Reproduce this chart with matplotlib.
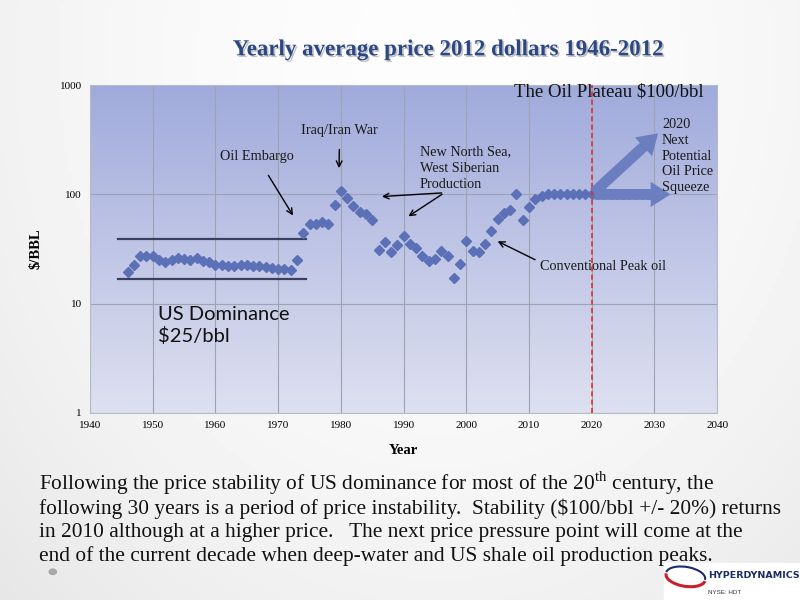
import numpy as np
import matplotlib.pyplot as plt
import matplotlib.patheffects as pe
from matplotlib.patches import FancyArrowPatch, Rectangle, Arc

plt.rcParams['mathtext.fontset'] = 'custom'
plt.rcParams['mathtext.rm'] = 'Liberation Serif'

# yearly average price, 2012 dollars
years = list(range(1946, 2013))
prices = [19.3, 22.6, 27.1, 27.4, 27.1, 24.9, 24.1, 25.2, 25.9, 25.4,
          25.0, 26.1, 24.3, 23.8, 22.8, 22.4, 22.2, 22.3, 22.5, 22.4,
          22.2, 21.9, 21.5, 21.0, 20.8, 20.9, 20.4, 24.9, 44.5, 53.7,
          53.7, 56.3, 54.0, 80.7, 107.0, 92.5, 78.0, 68.7, 66.3, 58.7,
          30.7, 36.9, 29.5, 34.6, 41.3, 35.1, 32.3, 27.1, 24.5, 25.6,
          30.3, 27.3, 17.1, 23.0, 37.4, 30.5, 29.8, 35.3, 46.5, 59.7,
          68.2, 72.1, 100.6, 58.7, 76.4, 91.2, 96.5]
# plateau projection
proj_years = list(range(2013, 2031))
proj_prices = [100] * len(proj_years)

x_ticks = list(range(1940, 2041, 10))
y_ticks = [1, 10, 100, 1000]

body_lines = [
    'Following the price stability of US dominance for most of the 20$^{\\rm th}$ century, the',
    'following 30 years is a period of price instability.  Stability (\\$100/bbl +/- 20%) returns',
    'in 2010 although at a higher price.   The next price pressure point will come at the',
    'end of the current decade when deep-water and US shale oil production peaks.',
]

serif = 'Liberation Serif'
marker_col = '#5b70b6'
arrow_col = '#6a7ec0'

fig = plt.figure(figsize=(8, 6), dpi=100)

# slide background
bg = fig.add_axes([0, 0, 1, 1], zorder=-10)
gx = np.linspace(0, 1, 200)
gy = np.linspace(0, 1, 150)
X, Y = np.meshgrid(gx, gy)
shade = 0.90 + 0.09 * np.clip(1 - ((X - 0.55) ** 2 * 1.6 + (Y - 0.1) ** 2 * 0.6), 0, 1)
bg.imshow(shade, cmap='gray', vmin=0, vmax=1, aspect='auto', extent=[0, 1, 0, 1])
bg.axis('off')

pos = [0.1125, 0.312, 0.784, 0.546]

# plot area gradient
pbg = fig.add_axes(pos, zorder=-5)
grad = np.linspace(0, 1, 256).reshape(-1, 1)
top = np.array([0.63, 0.67, 0.86])
bot = np.array([0.87, 0.88, 0.94])
img = (bot + (top - bot) * grad).reshape(256, 1, 3)
pbg.imshow(img, aspect='auto', extent=[0, 1, 0, 1], origin='lower')
pbg.axis('off')

ax = fig.add_axes(pos)
ax.set_facecolor('none')
ax.set_yscale('log')
ax.set_xlim(1940, 2040)
ax.set_ylim(1, 1000)
ax.set_xticks(x_ticks)
ax.set_xticklabels([str(t) for t in x_ticks], fontsize=8, family=serif)
ax.set_yticks(y_ticks)
ax.set_yticklabels([str(t) for t in y_ticks], fontsize=8, family=serif)
ax.minorticks_off()
ax.tick_params(length=0, pad=6)
ax.grid(True, color='#9ea3b3', linewidth=0.8)
ax.set_axisbelow(True)
for s in ax.spines.values():
    s.set_color('#b8bcc8')
    s.set_linewidth(0.8)
ax.set_xlabel('Year', fontsize=10.5, fontweight='bold', family=serif, labelpad=10)
ax.set_ylabel('$/BBL', fontsize=10.5, fontweight='bold', family=serif, labelpad=12)

ax.plot(years, prices, linestyle='none', marker='D', markersize=5, color=marker_col, zorder=3)
ax.plot(proj_years, proj_prices, linestyle='none', marker='D', markersize=5, color=marker_col, zorder=3)

# dominance band lines
ax.plot([1944.5, 1974.4], [39, 39], color='#3a4060', lw=1.6)
ax.plot([1944.5, 1974.4], [16.7, 16.7], color='#3a4060', lw=1.6)

ax.axvline(2020, color='#e03030', linestyle=(0, (3, 2)), lw=1.2, zorder=4)

# big arrows
for end in [(2030.9, 377), (2033, 100)]:
    a = FancyArrowPatch((2020, 100), end, arrowstyle='simple,head_length=1.1,head_width=1.4,tail_width=0.6',
                        mutation_scale=13, color=arrow_col, zorder=5, lw=0)
    ax.add_patch(a)

ann_kw = dict(fontsize=10.3, family=serif, color='#1a1a1a')
arr = dict(arrowstyle='->', color='black', lw=1.0)
ax.annotate('Oil Embargo', xy=(1972.6, 61), xytext=(1966.6, 222), ha='center', va='center',
            arrowprops=dict(arr, shrinkA=8), **ann_kw)
ax.annotate('Iraq/Iran War', xy=(1979.7, 164), xytext=(1979.8, 385), ha='center', va='center',
            arrowprops=dict(arr, shrinkA=7), **ann_kw)
ax.text(1992.6, 280, 'New North Sea,\nWest Siberian\nProduction', ha='left', va='top',
        linespacing=1.3, **ann_kw)
ax.annotate('', xy=(1986.1, 95.3), xytext=(1996.5, 103.5), arrowprops=arr)
ax.annotate('', xy=(1990.4, 61), xytext=(1996.5, 103.5), arrowprops=arr)
ax.annotate('Conventional Peak oil', xy=(2004.6, 38.2), xytext=(2011.8, 22), ha='left', va='center',
            arrowprops=dict(arr, relpos=(0, 0.8), shrinkA=2), **ann_kw)
ax.text(2037.8, 860, 'The Oil Plateau $100/bbl', ha='right', va='center', fontsize=13.5,
        family=serif, color='#111111')
ax.text(2031.2, 500, '2020\nNext\nPotential\nOil Price\nSqueeze', ha='left', va='top',
        linespacing=1.28, zorder=6, **ann_kw)
ax.text(1950.9, 9.6, 'US Dominance\n$25/bbl', ha='left', va='top', fontsize=14.5,
        family='Lato', linespacing=1.3, color='#111111')

fig.text(0.56, 0.917, 'Yearly average price 2012 dollars 1946-2012', ha='center', va='center',
         fontsize=16.5, fontweight='bold', family=serif, color='#2b4785',
         path_effects=[pe.withSimplePatchShadow(offset=(1.2, -1.2), shadow_rgbFace='#888888', alpha=0.5)])

for i, line in enumerate(body_lines):
    fig.text(0.049, 1 - (490 + 23.7 * i) / 600, line, ha='left', va='baseline',
             fontsize=15.4, family=serif, color='#111111')

# bullet dot
fig.patches.append(plt.Circle((0.066, 0.047), 0.0045, transform=fig.transFigure, color='#a8a8a8'))

# logo
fig.patches.append(Rectangle((0.83, 0.0), 0.17, 0.062, transform=fig.transFigure, color='white'))
fig.patches.append(Arc((0.857, 0.038), 0.05, 0.03, angle=-15, theta1=180, theta2=360,
                       transform=fig.transFigure, color='#c8202a', lw=2.2))
fig.patches.append(Arc((0.857, 0.040), 0.05, 0.03, angle=-15, theta1=0, theta2=180,
                       transform=fig.transFigure, color='#1c2a6a', lw=1.5))
fig.text(0.885, 0.04, 'HYPERDYNAMICS', fontsize=6.8, fontweight='bold', family='Liberation Sans Narrow',
         color='#1c2a6a', va='center', ha='left')
fig.text(0.885, 0.013, 'NYSE: HDT', fontsize=4.5, family='Liberation Sans', color='#333333',
         va='center', ha='left')

fig.savefig('out.png', dpi=100)
